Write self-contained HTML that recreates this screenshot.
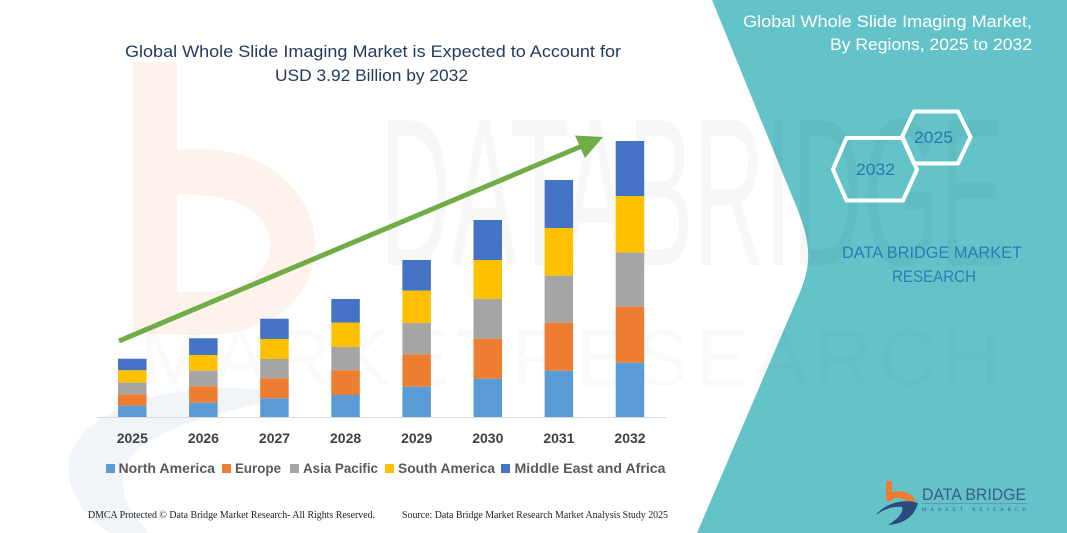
<!DOCTYPE html>
<html><head><meta charset="utf-8"><style>
html,body{margin:0;padding:0;background:#fff;}
svg{display:block;}
</style></head><body>
<svg width="1067" height="533" viewBox="0 0 1067 533" xmlns="http://www.w3.org/2000/svg">
<rect width="1067" height="533" fill="#fff"/>
<!-- faint orange b watermark -->
<g fill="#fef3ec">
<rect x="133" y="62" width="44" height="272"/>
<path d="M177,150 C260,140 315,190 315,245 C315,300 270,335 200,335 L177,335 L177,292 L200,292 C245,292 270,272 270,245 C270,215 240,192 177,195 Z"/>
</g>
<!-- faint blue swoosh -->
<path d="M290,395 C200,375 95,400 72,450 C60,480 80,515 110,533 L150,533 C120,505 112,470 140,448 C175,420 240,410 290,395 Z" fill="#f1f5f9"/>
<!-- teal panel -->
<path d="M712,0 L792,196 C812,242 812,262 800,292 L697,533 L1067,533 L1067,0 Z" fill="#63c3c9"/>
<!-- gray watermark text -->
<text x="380" y="265" font-family="Liberation Sans, sans-serif" font-size="210" fill="#000" fill-opacity="0.03" textLength="625" lengthAdjust="spacingAndGlyphs">DATABRIDGE</text>
<text x="140" y="385" font-family="Liberation Sans, sans-serif" font-size="80" fill="#000" fill-opacity="0.018" textLength="860" lengthAdjust="spacing">MARKETRESEARCH</text>
<!-- title -->
<text x="125" y="57" font-family="Liberation Sans, sans-serif" font-size="16.5" fill="#253a60" textLength="496" lengthAdjust="spacingAndGlyphs">Global Whole Slide Imaging Market is Expected to Account for</text>
<text x="275" y="81" font-family="Liberation Sans, sans-serif" font-size="16.5" fill="#253a60" textLength="193" lengthAdjust="spacingAndGlyphs">USD 3.92 Billion by 2032</text>
<!-- axis -->
<line x1="97" y1="417.5" x2="666" y2="417.5" stroke="#d9d9d9" stroke-width="1"/>
<!-- bars -->
<g>
<rect x="118" y="358.7" width="28.5" height="11.6" fill="#4472c4"/>
<rect x="118" y="370.3" width="28.5" height="12.4" fill="#ffc000"/>
<rect x="118" y="382.7" width="28.5" height="11.6" fill="#a5a5a5"/>
<rect x="118" y="394.3" width="28.5" height="11.4" fill="#ed7d31"/>
<rect x="118" y="405.7" width="28.5" height="11.3" fill="#5b9bd5"/>
<rect x="189.1" y="338.3" width="28.5" height="16.7" fill="#4472c4"/>
<rect x="189.1" y="355" width="28.5" height="15.7" fill="#ffc000"/>
<rect x="189.1" y="370.7" width="28.5" height="15.6" fill="#a5a5a5"/>
<rect x="189.1" y="386.3" width="28.5" height="16.4" fill="#ed7d31"/>
<rect x="189.1" y="402.7" width="28.5" height="14.3" fill="#5b9bd5"/>
<rect x="260.2" y="318.7" width="28.5" height="20.3" fill="#4472c4"/>
<rect x="260.2" y="339" width="28.5" height="20" fill="#ffc000"/>
<rect x="260.2" y="359" width="28.5" height="19.3" fill="#a5a5a5"/>
<rect x="260.2" y="378.3" width="28.5" height="20" fill="#ed7d31"/>
<rect x="260.2" y="398.3" width="28.5" height="18.7" fill="#5b9bd5"/>
<rect x="331.3" y="299" width="28.5" height="23.7" fill="#4472c4"/>
<rect x="331.3" y="322.7" width="28.5" height="24.3" fill="#ffc000"/>
<rect x="331.3" y="347" width="28.5" height="23.3" fill="#a5a5a5"/>
<rect x="331.3" y="370.3" width="28.5" height="24.7" fill="#ed7d31"/>
<rect x="331.3" y="395" width="28.5" height="22" fill="#5b9bd5"/>
<rect x="402.4" y="260" width="28.5" height="30.7" fill="#4472c4"/>
<rect x="402.4" y="290.7" width="28.5" height="32.3" fill="#ffc000"/>
<rect x="402.4" y="323" width="28.5" height="31.3" fill="#a5a5a5"/>
<rect x="402.4" y="354.3" width="28.5" height="32.4" fill="#ed7d31"/>
<rect x="402.4" y="386.7" width="28.5" height="30.3" fill="#5b9bd5"/>
<rect x="473.5" y="220" width="28.5" height="40" fill="#4472c4"/>
<rect x="473.5" y="260" width="28.5" height="39" fill="#ffc000"/>
<rect x="473.5" y="299" width="28.5" height="39.7" fill="#a5a5a5"/>
<rect x="473.5" y="338.7" width="28.5" height="40" fill="#ed7d31"/>
<rect x="473.5" y="378.7" width="28.5" height="38.3" fill="#5b9bd5"/>
<rect x="544.6" y="180" width="28.5" height="48" fill="#4472c4"/>
<rect x="544.6" y="228" width="28.5" height="47.7" fill="#ffc000"/>
<rect x="544.6" y="275.7" width="28.5" height="47" fill="#a5a5a5"/>
<rect x="544.6" y="322.7" width="28.5" height="48" fill="#ed7d31"/>
<rect x="544.6" y="370.7" width="28.5" height="46.3" fill="#5b9bd5"/>
<rect x="615.7" y="141" width="28.5" height="55" fill="#4472c4"/>
<rect x="615.7" y="196" width="28.5" height="56.7" fill="#ffc000"/>
<rect x="615.7" y="252.7" width="28.5" height="54" fill="#a5a5a5"/>
<rect x="615.7" y="306.7" width="28.5" height="56" fill="#ed7d31"/>
<rect x="615.7" y="362.7" width="28.5" height="54.3" fill="#5b9bd5"/>
</g>
<!-- arrow -->
<line x1="119" y1="341" x2="582" y2="146" stroke="#70ad47" stroke-width="5"/>
<polygon points="603,137 575,135.5 585,158" fill="#70ad47"/>
<!-- year labels -->
<g font-family="Liberation Sans, sans-serif" font-size="14" font-weight="bold" fill="#404040" text-anchor="middle">
<text x="132.3" y="443">2025</text>
<text x="203.4" y="443">2026</text>
<text x="274.5" y="443">2027</text>
<text x="345.6" y="443">2028</text>
<text x="416.7" y="443">2029</text>
<text x="487.8" y="443">2030</text>
<text x="558.9" y="443">2031</text>
<text x="630" y="443">2032</text>
</g>
<!-- legend -->
<g font-family="Liberation Sans, sans-serif" font-size="14" font-weight="bold" fill="#595959">
<rect x="106" y="464" width="9" height="9" fill="#5b9bd5"/>
<text x="118.5" y="473" textLength="96.5" lengthAdjust="spacingAndGlyphs">North America</text>
<rect x="222" y="464" width="9" height="9" fill="#ed7d31"/>
<text x="235" y="473" textLength="46" lengthAdjust="spacingAndGlyphs">Europe</text>
<rect x="290" y="464" width="9" height="9" fill="#a5a5a5"/>
<text x="303" y="473" textLength="75" lengthAdjust="spacingAndGlyphs">Asia Pacific</text>
<rect x="385" y="464" width="9" height="9" fill="#ffc000"/>
<text x="398" y="473" textLength="97" lengthAdjust="spacingAndGlyphs">South America</text>
<rect x="501" y="464" width="9" height="9" fill="#4472c4"/>
<text x="514.5" y="473" textLength="151" lengthAdjust="spacingAndGlyphs">Middle East and Africa</text>
</g>
<!-- footer -->
<g font-family="Liberation Serif, serif" font-size="10" fill="#222">
<text x="88" y="518" textLength="287" lengthAdjust="spacingAndGlyphs">DMCA Protected © Data Bridge Market Research-  All Rights Reserved.</text>
<text x="402" y="518" textLength="266" lengthAdjust="spacingAndGlyphs">Source:  Data Bridge Market Research  Market Analysis Study 2025</text>
</g>
<!-- right panel title -->
<g font-family="Liberation Sans, sans-serif" font-size="17" fill="#ffffff">
<text x="743" y="27" textLength="289" lengthAdjust="spacingAndGlyphs">Global Whole Slide Imaging Market,</text>
<text x="830" y="50" textLength="202" lengthAdjust="spacingAndGlyphs">By Regions, 2025 to 2032</text>
</g>
<!-- hexagons -->
<g fill="none" stroke="#ffffff" stroke-width="4" stroke-linejoin="round">
<polygon points="902,137 914,111.5 958,111.5 970.5,137 958,163.5 914,163.5"/>
<polygon points="833,169.5 846.5,138 903,138 917,169.5 903,200.5 846.5,200.5"/>
</g>
<g font-family="Liberation Sans, sans-serif" font-size="17" fill="#2f76b0">
<text x="914" y="143" textLength="39" lengthAdjust="spacingAndGlyphs">2025</text>
<text x="856" y="175" textLength="39" lengthAdjust="spacingAndGlyphs">2032</text>
</g>
<g font-family="Liberation Sans, sans-serif" font-size="17" fill="#2f7bb5">
<text x="842" y="258" textLength="180" lengthAdjust="spacingAndGlyphs">DATA BRIDGE MARKET</text>
<text x="892" y="282" textLength="84" lengthAdjust="spacingAndGlyphs">RESEARCH</text>
</g>
<!-- logo -->
<g>
<rect x="886" y="481" width="6" height="20" fill="#ef7b33"/>
<path d="M886,494 C900,488 914,492 916,504 L909,506 C907,498 898,496 890,500 Z" fill="#ef7b33"/>
<path d="M876,515 C885,503 905,498 918,503 C915,515 905,524 888,525 C898,519 904,512 902,507 C893,506 884,509 876,515 Z" fill="#2b4b7c"/>
<text x="922" y="500" font-family="Liberation Sans, sans-serif" font-size="17" fill="#3b5c88" textLength="104" lengthAdjust="spacingAndGlyphs">DATA BRIDGE</text>
<line x1="922" y1="503.5" x2="1027" y2="503.5" stroke="#5a7aa0" stroke-width="0.6"/>
<text x="922" y="511" font-family="Liberation Serif, serif" font-size="5" fill="#3b5c88" textLength="104" lengthAdjust="spacing">MARKET RESEARCH</text>
</g>
</svg>
</body></html>
